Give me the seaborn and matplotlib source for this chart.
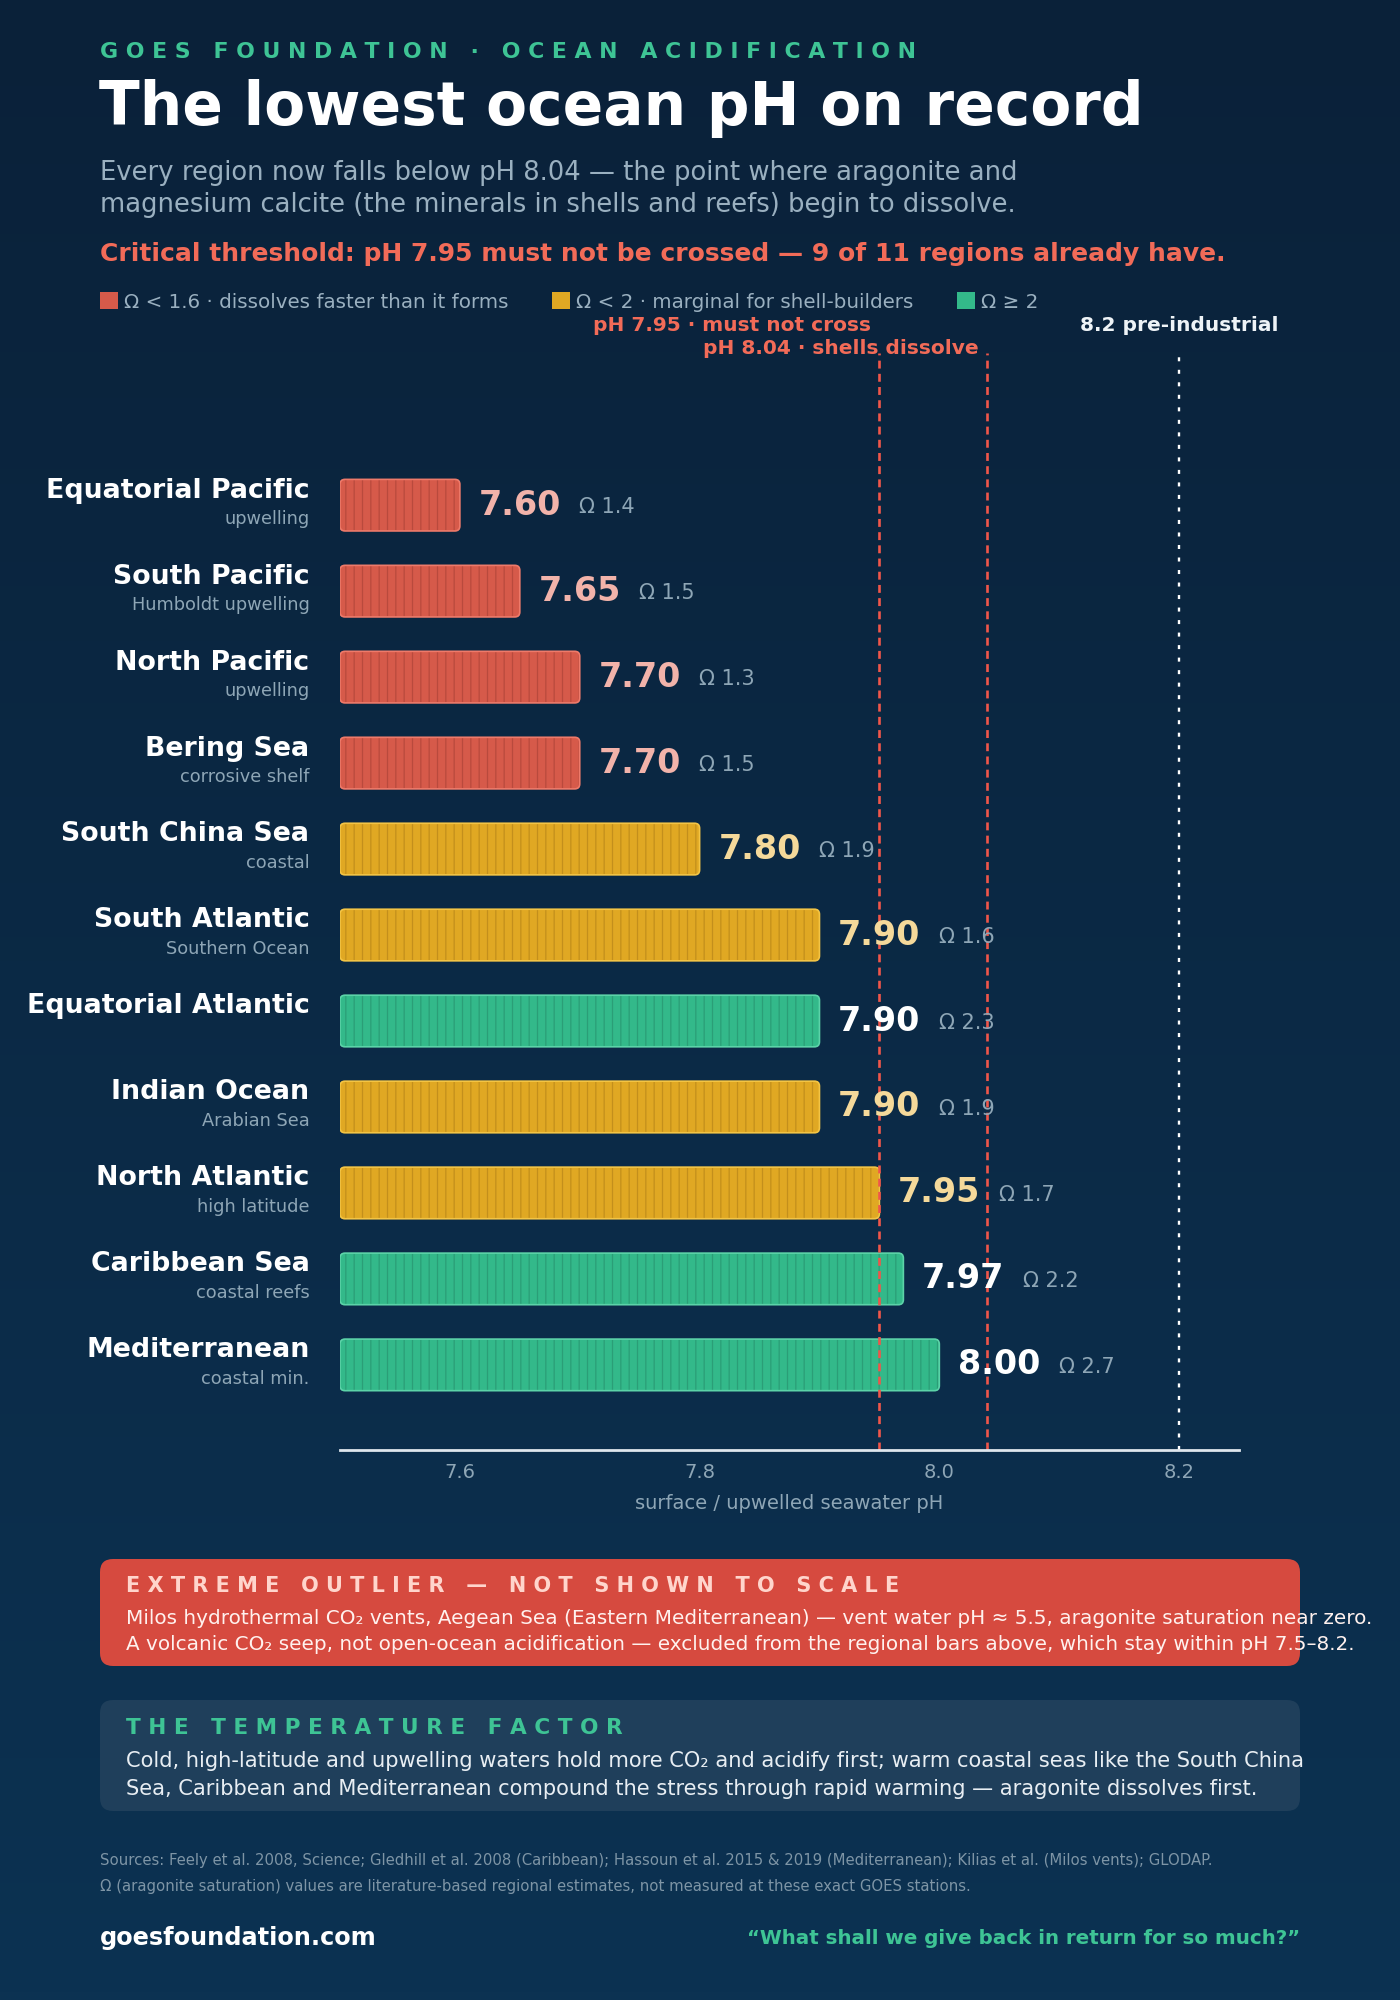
import numpy as np
import pandas as pd
import matplotlib
matplotlib.use("Agg")
import matplotlib.pyplot as plt
from matplotlib.patches import FancyBboxPatch, Patch
from matplotlib.colors import LinearSegmentedColormap
import seaborn as sns

regions = [
    "Equatorial Pacific", "South Pacific", "North Pacific", "Bering Sea",
    "South China Sea", "South Atlantic", "Equatorial Atlantic", "Indian Ocean",
    "North Atlantic", "Caribbean Sea", "Mediterranean",
]
notes = [
    "upwelling", "Humboldt upwelling", "upwelling", "corrosive shelf",
    "coastal", "Southern Ocean", "", "Arabian Sea",
    "high latitude", "coastal reefs", "coastal min.",
]
ph = [7.60, 7.65, 7.70, 7.70, 7.80, 7.90, 7.90, 7.90, 7.95, 7.97, 8.00]
omega = [1.4, 1.5, 1.3, 1.5, 1.9, 1.6, 2.3, 1.9, 1.7, 2.2, 2.7]
ticks = [7.6, 7.8, 8.0, 8.2]
thresholds = [7.95, 8.04]
preindustrial = 8.2
legend_labels = [
    "Ω < 1.6 · dissolves faster than it forms",
    "Ω < 2 · marginal for shell-builders",
    "Ω ≥ 2",
]

BG_TOP = "#0a2139"
BG_BOTTOM = "#0c3252"
RED = "#d65a4a"
GOLD = "#e0a823"
GREEN = "#33b98a"
SALMON = "#f26b58"
MINT = "#3ec495"
SUB = "#8ea6b6"
palette = {"low": RED, "mid": GOLD, "ok": GREEN}
stripe = {"low": "#b94a3d", "mid": "#c38f1c", "ok": "#2b9e77"}
rim = {"low": "#ee7a6a", "mid": "#f3c445", "ok": "#5cd3a8"}
value_color = {"low": "#f2b3aa", "mid": "#f5d99a", "ok": "white"}


def band(o):
    if o < 1.6:
        return "low"
    if o < 2:
        return "mid"
    return "ok"


def spaced(s):
    return "   ".join(" ".join(w) for w in s.split(" "))


df = pd.DataFrame({"region": regions, "note": notes, "ph": ph, "omega": omega})
df["band"] = df["omega"].apply(band)

sns.set_theme(style="white")
plt.rcParams["font.family"] = ["DejaVu Sans"]
plt.rcParams["hatch.linewidth"] = 0.9

W, H = 1400, 2000
fig = plt.figure(figsize=(W / 100, H / 100), dpi=100)

# background gradient
bg = fig.add_axes([0, 0, 1, 1], zorder=-10)
grad = np.linspace(0, 1, 256).reshape(-1, 1)
bg.imshow(grad, aspect="auto", extent=[0, 1, 0, 1], origin="upper",
          cmap=LinearSegmentedColormap.from_list("bg", [BG_TOP, BG_BOTTOM]))
bg.axis("off")

ax = fig.add_axes([340 / W, 1 - 1450 / H, 899 / W, 1097 / H])
ax.set_facecolor("none")

sns.barplot(data=df, x="ph", y="region", hue="band", palette=palette,
            dodge=False, legend=False, width=0.6, saturation=1, ax=ax)

x0, x1 = 7.5, 8.25
ax.set_xlim(x0, x1)
ax.set_ylim(10.99, -1.77)

# rebuild bars as rounded, striped boxes starting at the axis edge
pos = ax.get_position()
px_x = (x1 - x0) / (pos.width * W)
px_y = (10.99 + 1.77) / (pos.height * H)
asp = px_y / px_x
r = 5 * px_x
for p in list(ax.patches):
    y, h, w = p.get_y(), p.get_height(), p.get_width()
    i = int(round(y + h / 2))
    b = df.loc[i, "band"]
    p.remove()
    ax.add_patch(FancyBboxPatch((x0, y), w - x0, h,
                                boxstyle=f"round,pad=0,rounding_size={r}",
                                mutation_aspect=asp, facecolor=palette[b],
                                edgecolor=stripe[b], hatch="||", lw=0, zorder=2))
    ax.add_patch(FancyBboxPatch((x0, y), w - x0, h,
                                boxstyle=f"round,pad=0,rounding_size={r}",
                                mutation_aspect=asp, fill=False,
                                edgecolor=rim[b], lw=1.2, zorder=2.1))

for t in thresholds:
    ax.axvline(t, color="#f0564a", lw=1.9, dashes=(3, 2), zorder=2.5)
ax.axvline(preindustrial, color="white", lw=1.7, dashes=(1.7, 3.6), zorder=2.5)

ax.annotate("pH 7.95 · must not cross", xy=(thresholds[0], 1),
            xycoords=("data", "axes fraction"), xytext=(-6, 20),
            textcoords="offset points", ha="right", va="center",
            fontsize=14.5, fontweight="bold", color=SALMON)
ax.annotate("pH 8.04 · shells dissolve", xy=(thresholds[1], 1),
            xycoords=("data", "axes fraction"), xytext=(-6, 3.5),
            textcoords="offset points", ha="right", va="center",
            fontsize=14.5, fontweight="bold", color=SALMON)
ax.annotate("8.2 pre-industrial", xy=(preindustrial, 1),
            xycoords=("data", "axes fraction"), xytext=(0, 20),
            textcoords="offset points", ha="center", va="center",
            fontsize=14.5, fontweight="bold", color="#eef3f7")

for i, row in df.iterrows():
    ax.annotate(row.region, xy=(0, i), xycoords=("axes fraction", "data"),
                xytext=(-22, 10.5), textcoords="offset points", ha="right",
                va="center", fontsize=19.3, fontweight="bold", color="white")
    if row.note:
        ax.annotate(row.note, xy=(0, i), xycoords=("axes fraction", "data"),
                    xytext=(-22, -10), textcoords="offset points", ha="right",
                    va="center", fontsize=12.8, color=SUB)
    v = ax.annotate(f"{row.ph:.2f}", xy=(row.ph, i), xytext=(13.5, 0),
                    textcoords="offset points", ha="left", va="center",
                    fontsize=24, fontweight="bold", color=value_color[row.band],
                    zorder=3)
    ax.annotate(f"Ω {row.omega:.1f}", xy=(1, 0.5), xycoords=v, xytext=(13, -1.5),
                textcoords="offset points", ha="left", va="center",
                fontsize=15, color=SUB, zorder=3)

for s in ["top", "right", "left"]:
    ax.spines[s].set_visible(False)
ax.spines["bottom"].set_color("#dfe6ec")
ax.spines["bottom"].set_linewidth(2)
ax.set_xticks(ticks)
ax.set_xticklabels([f"{t:.1f}" for t in ticks])
ax.set_yticks([])
ax.set_ylabel("")
ax.tick_params(axis="x", length=0, pad=9, labelsize=14, labelcolor=SUB)
ax.set_xlabel("surface / upwelled seawater pH", fontsize=14, color=SUB, labelpad=9)

# header
L = 100 / W
fig.text(L, 1 - 52 / H, spaced("GOES FOUNDATION · OCEAN ACIDIFICATION"),
         fontsize=15.8, fontweight="bold", color=MINT, va="center")
fig.text(L - 0.001, 1 - 108 / H, "The lowest ocean pH on record", fontsize=43,
         fontweight="bold", color="white", va="center")
fig.text(L, 1 - 173 / H,
         "Every region now falls below pH 8.04 — the point where aragonite and",
         fontsize=18.6, color="#9ab0c0", va="center")
fig.text(L, 1 - 205 / H,
         "magnesium calcite (the minerals in shells and reefs) begin to dissolve.",
         fontsize=18.6, color="#9ab0c0", va="center")
fig.text(L, 1 - 254 / H,
         "Critical threshold: pH 7.95 must not be crossed — 9 of 11 regions already have.",
         fontsize=18, fontweight="bold", color=SALMON, va="center")

handles = [Patch(facecolor=c, edgecolor="none") for c in [RED, GOLD, GREEN]]
fig.legend(handles, legend_labels, loc="center left", bbox_to_anchor=(L, 1 - 302 / H),
           ncol=3, frameon=False, fontsize=14.3, labelcolor="#9ab0c0",
           handlelength=0.9, handleheight=0.9, handletextpad=0.3,
           columnspacing=2.2, borderaxespad=0, borderpad=0)

# callout boxes
box_asp = W / H
for (top, bot, col) in [(1559, 1666, "#d64a3f"), (1700, 1811, "#1f3f5b")]:
    fig.patches.append(FancyBboxPatch(
        (L, 1 - bot / H), 1200 / W, (bot - top) / H,
        boxstyle=f"round,pad=0,rounding_size={13 / W}", mutation_aspect=box_asp,
        transform=fig.transFigure, facecolor=col, edgecolor="none", zorder=-5))

BX = 126 / W
fig.text(BX, 1 - 1586 / H, spaced("EXTREME OUTLIER — NOT SHOWN TO SCALE"),
         fontsize=15, fontweight="bold", color="#ffd5cc", va="center")
fig.text(BX, 1 - 1618 / H,
         "Milos hydrothermal CO₂ vents, Aegean Sea (Eastern Mediterranean) — vent water pH ≈ 5.5, aragonite saturation near zero.",
         fontsize=14.4, color="#fff1ee", va="center")
fig.text(BX, 1 - 1645 / H,
         "A volcanic CO₂ seep, not open-ocean acidification — excluded from the regional bars above, which stay within pH 7.5–8.2.",
         fontsize=14.4, color="#fff1ee", va="center")
fig.text(BX, 1 - 1728 / H, spaced("THE TEMPERATURE FACTOR"),
         fontsize=15.6, fontweight="bold", color=MINT, va="center")
fig.text(BX, 1 - 1761 / H,
         "Cold, high-latitude and upwelling waters hold more CO₂ and acidify first; warm coastal seas like the South China",
         fontsize=15.1, color="#e8eef3", va="center")
fig.text(BX, 1 - 1789 / H,
         "Sea, Caribbean and Mediterranean compound the stress through rapid warming — aragonite dissolves first.",
         fontsize=15.1, color="#e8eef3", va="center")

fig.text(L, 1 - 1860 / H,
         "Sources: Feely et al. 2008, Science; Gledhill et al. 2008 (Caribbean); Hassoun et al. 2015 & 2019 (Mediterranean); Kilias et al. (Milos vents); GLODAP.",
         fontsize=10.75, color="#7e95a6", va="center")
fig.text(L, 1 - 1886 / H,
         "Ω (aragonite saturation) values are literature-based regional estimates, not measured at these exact GOES stations.",
         fontsize=10.75, color="#7e95a6", va="center")

fig.text(L, 1 - 1938 / H, "goesfoundation.com", fontsize=17.3, fontweight="bold",
         color="white", va="center")
fig.text(1300 / W, 1 - 1938 / H, "“What shall we give back in return for so much?”",
         fontsize=14.3, fontweight="bold", color=MINT, va="center", ha="right")

fig.savefig("out.png", dpi=100)
